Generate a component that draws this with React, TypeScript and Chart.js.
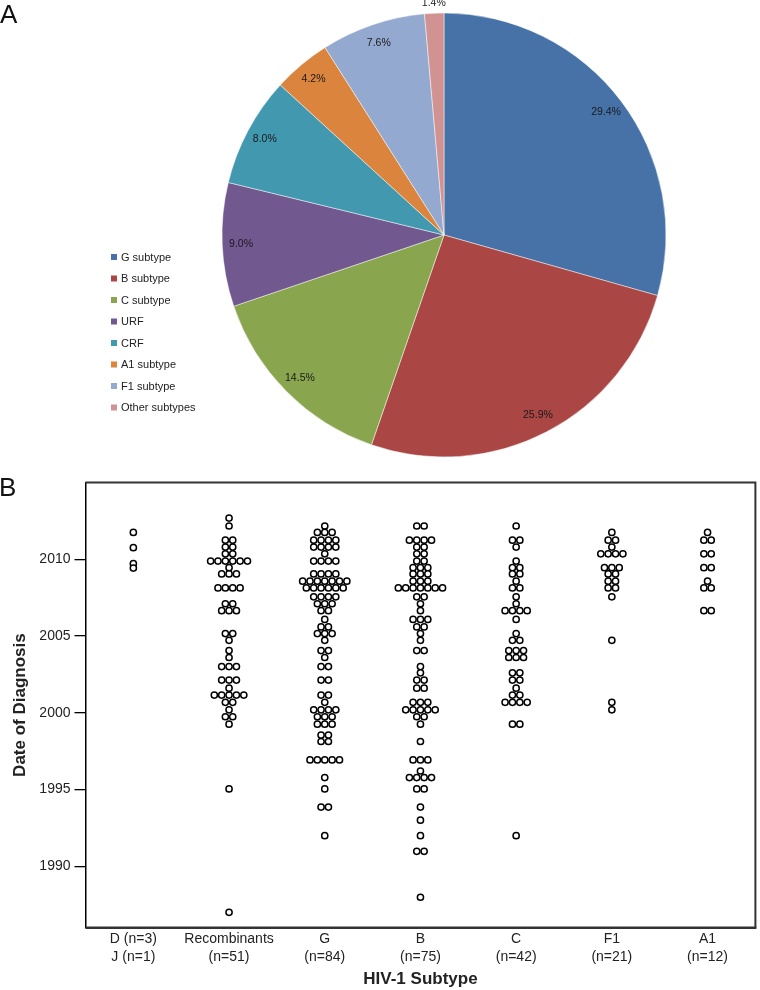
import React, { useEffect, useRef } from "react";
import { Chart, registerables } from "chart.js";

Chart.register(...registerables);

// ---------- Panel A: pie ----------
const PIE_LABELS = ["G subtype", "B subtype", "C subtype", "URF", "CRF", "A1 subtype", "F1 subtype", "Other subtypes"];
const PIE_PERCENTS = [29.4, 25.9, 14.5, 9.0, 8.0, 4.2, 7.6, 1.4];
const PIE_COLORS = ["#4672A8", "#AA4644", "#89A54E", "#71588F", "#4198AF", "#DB843D", "#93A9CF", "#D19392"];

// ---------- Panel B: dot plot ----------
const TICK_LINE1 = ["D (n=3)", "Recombinants", "G", "B", "C", "F1", "A1"];
const TICK_LINE2 = ["J (n=1)", "(n=51)", "(n=84)", "(n=75)", "(n=42)", "(n=21)", "(n=12)"];
const YEAR_TICKS = [1990, 1995, 2000, 2005, 2010];

const D_J_YEARS = [2011.74, 2010.75, 2009.71, 2009.42];

const RECOMBINANT_YEARS = [
  2012.68, 2012.16,
  2011.24, 2011.24, 2010.79, 2010.79, 2010.35, 2010.35,
  2009.88, 2009.88, 2009.88, 2009.88, 2009.88, 2009.88,
  2009.45, 2009.04, 2009.04, 2009.04,
  2008.13, 2008.13, 2008.13, 2008.13,
  2007.10, 2007.10, 2006.65, 2006.65, 2006.65,
  2005.16, 2005.16, 2004.72, 2004.05, 2003.60,
  2003.01, 2003.01, 2003.01, 2002.13, 2002.13, 2002.13,
  2001.60, 2001.15, 2001.15, 2001.15, 2001.15, 2001.15,
  2000.68, 2000.68, 2000.19, 1999.74, 1999.74, 1999.26,
  1995.04, 1987.01,
];

const G_YEARS = [
  2012.16,
  2011.74, 2011.74, 2011.74,
  2011.24, 2011.24, 2011.24, 2011.24,
  2010.79, 2010.79, 2010.79, 2010.79,
  2010.35,
  2009.88, 2009.88, 2009.88, 2009.88,
  2009.04, 2009.04, 2009.04, 2009.04,
  2008.57, 2008.57, 2008.57, 2008.57, 2008.57, 2008.57, 2008.57,
  2008.13, 2008.13, 2008.13, 2008.13, 2008.13, 2008.13,
  2007.55, 2007.55, 2007.55, 2007.55,
  2007.10, 2007.10, 2007.10,
  2006.65, 2006.65, 2006.08,
  2005.59, 2005.59, 2005.16, 2005.16, 2005.16,
  2004.72, 2004.05, 2004.05, 2003.60, 2003.01, 2003.01,
  2002.13, 2002.13, 2001.15, 2001.15, 2000.68,
  2000.19, 2000.19, 2000.19, 2000.19,
  1999.74, 1999.74, 1999.74,
  1999.26, 1999.26, 1999.26,
  1998.55, 1998.55, 1998.13, 1998.13,
  1996.93, 1996.93, 1996.93, 1996.93, 1996.93,
  1995.78, 1995.04, 1993.86, 1993.86, 1992.00,
];

const B_YEARS = [
  2012.16, 2012.16,
  2011.24, 2011.24, 2011.24, 2011.24,
  2010.79, 2010.79, 2010.35, 2010.35, 2009.88, 2009.88,
  2009.45, 2009.45, 2009.45,
  2009.04, 2009.04, 2009.04,
  2008.57, 2008.57, 2008.57,
  2008.13, 2008.13, 2008.13, 2008.13, 2008.13, 2008.13, 2008.13,
  2007.55, 2007.55, 2007.10, 2006.65,
  2006.08, 2006.08, 2006.08,
  2005.59, 2005.59, 2005.16, 2004.72, 2004.05, 2004.05,
  2003.01, 2002.60, 2002.13, 2002.13, 2001.60, 2001.60,
  2000.68, 2000.68, 2000.68,
  2000.19, 2000.19, 2000.19, 2000.19, 2000.19,
  1999.74, 1999.74, 1999.26, 1998.13,
  1996.93, 1996.93, 1996.93, 1996.21,
  1995.78, 1995.78, 1995.78, 1995.78,
  1995.04, 1995.04, 1993.86, 1993.01, 1992.00,
  1990.98, 1990.98, 1987.99,
];

const C_YEARS = [
  2012.16, 2011.24, 2011.24, 2010.79,
  2009.88, 2009.45, 2009.45, 2009.04, 2009.04,
  2008.57, 2008.13, 2008.13, 2007.55, 2007.10,
  2006.65, 2006.65, 2006.65, 2006.65, 2006.08,
  2005.16, 2004.72, 2004.72,
  2004.05, 2004.05, 2004.05, 2003.60, 2003.60, 2003.60,
  2002.60, 2002.60, 2002.13, 2002.13, 2001.60,
  2001.15, 2001.15,
  2000.68, 2000.68, 2000.68, 2000.68,
  1999.26, 1999.26, 1992.00,
];

const F1_YEARS = [
  2011.74, 2011.24, 2011.24, 2010.79,
  2010.35, 2010.35, 2010.35, 2010.35,
  2009.45, 2009.45, 2009.45, 2009.04, 2009.04,
  2008.57, 2008.57, 2008.13, 2008.13, 2007.55,
  2004.72, 2000.68, 2000.19,
];

const A1_YEARS = [
  2011.74, 2011.24, 2011.24, 2010.35, 2010.35,
  2009.45, 2009.45, 2008.57, 2008.13, 2008.13,
  2006.65, 2006.65,
];

const GROUP_YEARS = [D_J_YEARS, RECOMBINANT_YEARS, G_YEARS, B_YEARS, C_YEARS, F1_YEARS, A1_YEARS];

const FONT = '"Liberation Sans", Arial, Helvetica, sans-serif';
const DOT_STEP = 0.077; // horizontal spacing of stacked dots, in category units

function dotPoints(years: number[], idx: number) {
  const counts = new Map<number, number>();
  years.forEach((y) => counts.set(y, (counts.get(y) || 0) + 1));
  const pts: { x: number; y: number }[] = [];
  counts.forEach((n, y) => {
    for (let i = 0; i < n; i++) pts.push({ x: idx + (i - (n - 1) / 2) * DOT_STEP, y });
  });
  return pts;
}

const pieLabelPlugin = {
  id: "pieLabels",
  afterDatasetsDraw(chart: any) {
    const ctx = chart.ctx;
    const meta = chart.getDatasetMeta(0);
    ctx.save();
    ctx.font = `10.5px ${FONT}`;
    ctx.fillStyle = "#1a1a1a";
    ctx.textAlign = "center";
    ctx.textBaseline = "middle";
    meta.data.forEach((arc: any, i: number) => {
      const p = arc.getProps(["x", "y", "startAngle", "endAngle", "outerRadius"], true);
      const mid = (p.startAngle + p.endAngle) / 2;
      const r = p.outerRadius * (PIE_PERCENTS[i] < 2 ? 1.045 : 0.915);
      ctx.fillText(PIE_PERCENTS[i].toFixed(1) + "%", p.x + Math.cos(mid) * r, p.y + Math.sin(mid) * r);
    });
    // legend
    ctx.textAlign = "left";
    ctx.font = `11px ${FONT}`;
    PIE_LABELS.forEach((lab, i) => {
      const y = 257 + i * 21.5;
      ctx.fillStyle = PIE_COLORS[i];
      ctx.fillRect(111, y - 3, 6, 6);
      ctx.fillStyle = "#222";
      ctx.fillText(lab, 121, y + 0.5);
    });
    ctx.restore();
  },
};

const framePlugin = {
  id: "frame",
  afterDatasetsDraw(chart: any) {
    const { ctx, chartArea } = chart;
    ctx.save();
    ctx.strokeStyle = "#333";
    ctx.lineWidth = 2;
    ctx.beginPath();
    ctx.moveTo(chartArea.left, chartArea.top);
    ctx.lineTo(chartArea.right, chartArea.top);
    ctx.lineTo(chartArea.right, chartArea.bottom);
    ctx.stroke();
    ctx.lineWidth = 2.6;
    ctx.beginPath();
    ctx.moveTo(chartArea.left, chartArea.bottom);
    ctx.lineTo(chartArea.right + 1, chartArea.bottom);
    ctx.stroke();
    ctx.restore();
  },
};

function PieChart() {
  const ref = useRef<HTMLCanvasElement>(null);
  useEffect(() => {
    const chart = new Chart(ref.current!, {
      type: "pie",
      data: {
        labels: PIE_LABELS,
        datasets: [
          {
            data: PIE_PERCENTS,
            backgroundColor: PIE_COLORS,
            borderColor: "rgba(255,255,255,0.6)",
            borderWidth: 0.8,
            radius: 222,
          } as any,
        ],
      },
      options: {
        animation: false,
        responsive: false,
        events: [],
        layout: { padding: { left: 222, right: 94, top: 13, bottom: 13 } },
        plugins: { legend: { display: false }, tooltip: { enabled: false } },
      },
      plugins: [pieLabelPlugin],
    });
    return () => chart.destroy();
  }, []);
  return <canvas ref={ref} width={760} height={470} style={{ position: "absolute", left: 0, top: 0 }} />;
}

function DotChart() {
  const ref = useRef<HTMLCanvasElement>(null);
  useEffect(() => {
    const points = GROUP_YEARS.flatMap((ys, i) => dotPoints(ys, i));
    const chart = new Chart(ref.current!, {
      type: "scatter",
      data: {
        datasets: [
          {
            data: points,
            pointRadius: 3.1,
            pointHoverRadius: 3.1,
            pointBorderWidth: 1.5,
            pointBorderColor: "#000",
            pointBackgroundColor: "#fff",
          },
        ],
      },
      options: {
        animation: false,
        responsive: false,
        events: [],
        layout: { padding: { left: 0, right: 3, top: 5.8, bottom: 0 } },
        plugins: { legend: { display: false }, tooltip: { enabled: false } },
        scales: {
          x: {
            type: "linear",
            min: -0.5,
            max: 6.5,
            afterBuildTicks: (s: any) => {
              s.ticks = TICK_LINE1.map((_, i) => ({ value: i }));
            },
            afterFit: (s: any) => {
              s.height = 62.2;
            },
            grid: { display: false, drawTicks: false },
            border: { display: false },
            ticks: {
              autoSkip: false,
              maxRotation: 0,
              padding: 2,
              color: "#222",
              font: { family: FONT, size: 14, lineHeight: 1.29 },
              callback: (_v: any, i: number) => [TICK_LINE1[i], TICK_LINE2[i]],
            },
            title: {
              display: true,
              text: "HIV-1 Subtype",
              color: "#222",
              font: { family: FONT, size: 17, weight: "bold", lineHeight: 1.2 },
              padding: { top: 0, bottom: 0 },
            },
          },
          y: {
            min: 1986,
            max: 2015,
            afterBuildTicks: (s: any) => {
              s.ticks = YEAR_TICKS.map((v) => ({ value: v }));
            },
            afterFit: (s: any) => {
              s.width = 85.5;
            },
            grid: { drawOnChartArea: false, drawTicks: true, tickLength: 11, color: "#000", lineWidth: 1.3 },
            border: { display: true, color: "#000", width: 1.5 },
            ticks: {
              padding: 4,
              color: "#222",
              font: { family: FONT, size: 14 },
              callback: (v: any) => String(v),
            },
            title: {
              display: true,
              text: "Date of Diagnosis",
              color: "#222",
              font: { family: FONT, size: 17, weight: "bold", lineHeight: 1.2 },
              padding: { top: 10, bottom: 0 },
            },
          },
        },
      } as any,
      plugins: [framePlugin],
    });
    return () => chart.destroy();
  }, []);
  return <canvas ref={ref} width={760} height={520} style={{ position: "absolute", left: 0, top: 470 }} />;
}

export default function App() {
  const panelLabel: React.CSSProperties = {
    position: "absolute",
    fontFamily: FONT,
    fontSize: 26,
    lineHeight: "26px",
    color: "#111",
  };
  return (
    <div style={{ position: "absolute", left: 0, top: 0, width: 760, height: 990, background: "#fff", overflow: "hidden" }}>
      <PieChart />
      <DotChart />
      <div style={{ ...panelLabel, left: 0, top: 1 }}>A</div>
      <div style={{ ...panelLabel, left: -1, top: 474 }}>B</div>
    </div>
  );
}
